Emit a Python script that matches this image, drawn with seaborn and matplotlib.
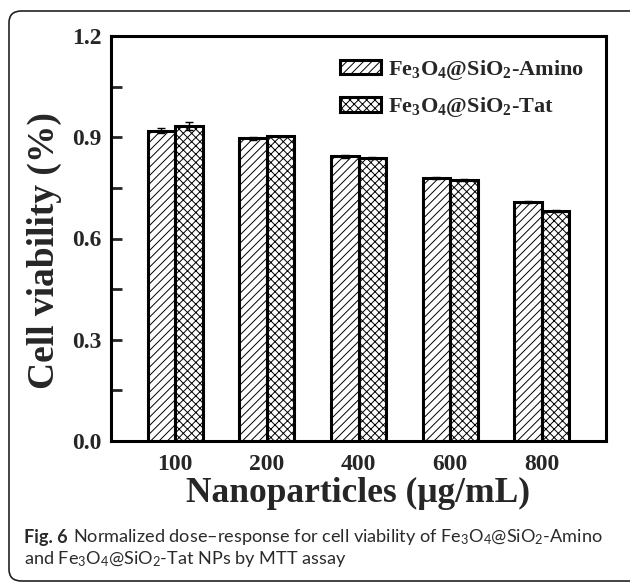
import matplotlib
matplotlib.use("Agg")
import matplotlib.pyplot as plt
from matplotlib.patches import FancyBboxPatch, Patch
import seaborn as sns
import pandas as pd
import numpy as np

concentrations = ["100", "200", "400", "600", "800"]
amino_values = [0.920, 0.897, 0.843, 0.780, 0.708]
tat_values = [0.934, 0.903, 0.838, 0.773, 0.681]
amino_err = [0.008, 0.005, 0.003, 0.003, 0.002]
tat_err = [0.012, 0.002, 0.003, 0.003, 0.002]
series_names = ["Amino", "Tat"]
yticks = [0.0, 0.3, 0.6, 0.9, 1.2]

cap_family = 'Lato'

sns.set_theme(style="ticks")
plt.rcParams['font.family'] = ['Liberation Serif', 'DejaVu Serif']
plt.rcParams['mathtext.fontset'] = 'custom'
plt.rcParams['mathtext.bf'] = 'Liberation Serif:bold'
plt.rcParams['mathtext.rm'] = 'Liberation Serif:bold'
plt.rcParams['mathtext.sf'] = cap_family + ':weight=normal'
plt.rcParams['hatch.linewidth'] = 0.7

df = pd.DataFrame({
    "conc": concentrations * 2,
    "viability": amino_values + tat_values,
    "series": [series_names[0]] * 5 + [series_names[1]] * 5,
})

fig = plt.figure(figsize=(6.3, 5.84), dpi=100)
ax = fig.add_axes([111/630, 1-441/584, 495/630, 405/584])

sns.barplot(data=df, x="conc", y="viability", hue="series", order=concentrations,
            hue_order=series_names, width=0.6, errorbar=None, ax=ax,
            palette=["white", "white"], edgecolor="black", linewidth=2.2,
            saturation=1, legend=False)

hatches = ['////', 'xxxx']
errs = [amino_err, tat_err]
vals = [amino_values, tat_values]
for cont, h, e, v in zip(ax.containers, hatches, errs, vals):
    xs = []
    for p in cont.patches:
        p.set_hatch(h)
        p.set_facecolor("white")
        p.set_edgecolor("black")
        xs.append(p.get_x() + p.get_width() / 2)
    ax.errorbar(xs, v, yerr=e, fmt='none', ecolor='black', elinewidth=1.0,
                capsize=3, capthick=1.0, zorder=5)

ax.set_xlim(-0.7, 4.7)
ax.set_ylim(0, 1.2)
ax.set_yticks(yticks)
ax.set_yticklabels([f"{t:.1f}" for t in yticks])
ax.set_yticks(np.arange(0.15, 1.2, 0.3), minor=True)
ax.tick_params(axis='y', which='both', direction='in', length=8, width=2,
               labelsize=17, pad=7)
ax.tick_params(axis='x', which='both', length=0, labelsize=17, pad=9)
for lab in ax.get_xticklabels() + ax.get_yticklabels():
    lab.set_fontweight('bold')
for s in ax.spines.values():
    s.set_linewidth(2.2)
    s.set_color('black')

ax.set_xlabel("Nanoparticles (μg/mL)", fontsize=25.5, fontweight='bold', labelpad=2)
ax.set_ylabel("Cell viability (%)", fontsize=27, fontweight='bold', labelpad=7)
ax.yaxis.label.set_y(0.47)

handles = [Patch(facecolor='white', edgecolor='black', hatch='////', linewidth=2.2),
           Patch(facecolor='white', edgecolor='black', hatch='xxxx', linewidth=2.2)]
labels = [r'Fe$_\mathbf{3}$O$_\mathbf{4}$@SiO$_\mathbf{2}$-Amino',
          r'Fe$_\mathbf{3}$O$_\mathbf{4}$@SiO$_\mathbf{2}$-Tat']
leg = ax.legend(handles, labels, loc='upper right', bbox_to_anchor=(0.995, 0.995),
                frameon=False, prop={'family': 'Liberation Serif', 'weight': 'bold', 'size': 16},
                handlelength=1.85, handleheight=0.6, handletextpad=0.3, labelspacing=0.6)

# outer rounded box
box = FancyBboxPatch((9/630, 3/584), 640/630, 570/584,
                     boxstyle="round,pad=0,rounding_size=0.02",
                     transform=fig.transFigure, facecolor='none', edgecolor='#222222',
                     linewidth=1.2, clip_on=False)
fig.patches.append(box)

# caption
cap_color = '#2a2a2a'
renderer = fig.canvas.get_renderer()
line1_rest = r"Normalized dose–response for cell viability of Fe$\mathsf{_3}$O$\mathsf{_4}$@SiO$\mathsf{_2}$-Amino"
line2 = r"and Fe$\mathsf{_3}$O$\mathsf{_4}$@SiO$\mathsf{_2}$-Tat NPs by MTT assay"
base_size = 14
x0 = 24
t1 = fig.text(x0/630, 1-537/584, "Fig. 6", fontsize=base_size, fontweight='bold',
              family=cap_family, color=cap_color, va='center', ha='left')
bb = t1.get_window_extent(renderer=renderer)
t2 = fig.text((bb.x1 + 5) / 630, 1-537/584, line1_rest,
              fontsize=base_size, fontweight='normal', family=cap_family, color=cap_color,
              va='center', ha='left')
bb2 = t2.get_window_extent(renderer=renderer)
scale = (606 - x0) / (bb2.x1 - bb.x0)
size = base_size * scale
t1.set_fontsize(size)
bb = t1.get_window_extent(renderer=renderer)
t2.set_fontsize(size)
t2.set_x((bb.x1 + 5) / 630)
fig.text(x0/630, 1-559/584, line2,
         fontsize=size, fontweight='normal', family=cap_family, color=cap_color,
         va='center', ha='left')

fig.savefig("out.png", dpi=100)
